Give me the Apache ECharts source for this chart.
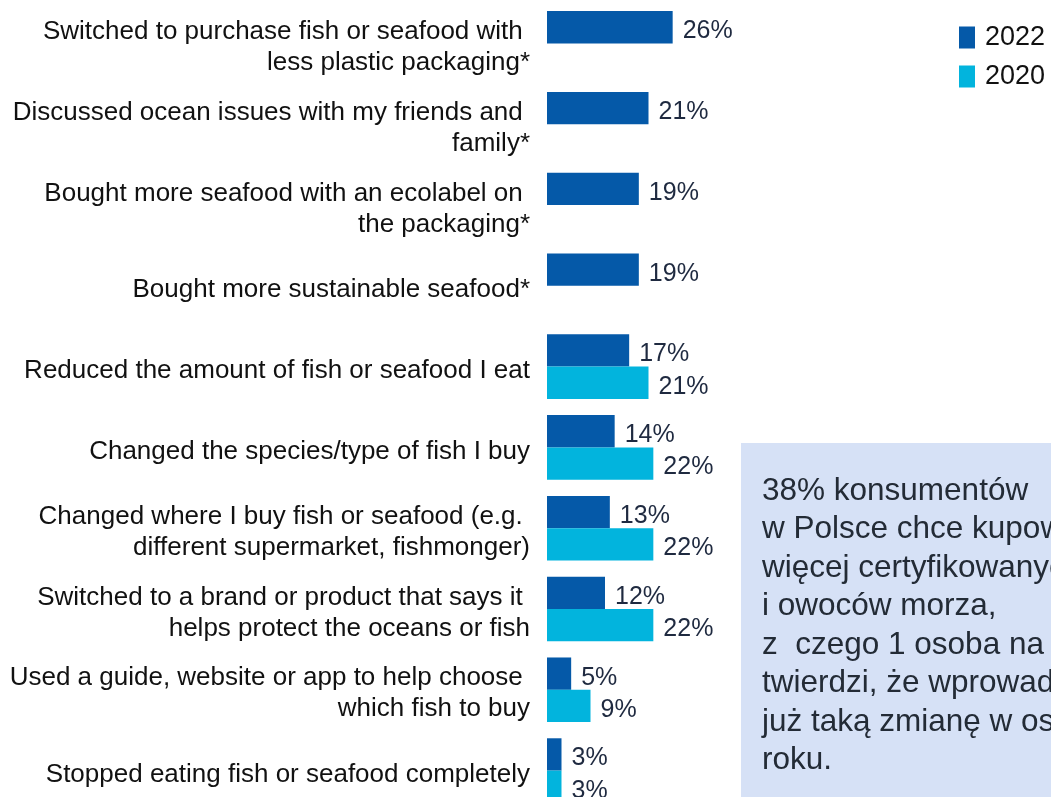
<!DOCTYPE html>
<html>
<head>
<meta charset="utf-8">
<script src="https://cdn.jsdelivr.net/npm/echarts@6/dist/echarts.min.js"></script>
<style>
  html, body { margin: 0; padding: 0; background: #ffffff; }
  #chart { width: 1051px; height: 797px; }
</style>
</head>
<body>
<div id="chart"></div>
<script>
// Survey answers: actions taken by consumers (share of respondents, %)
const categories = [
  'Switched to purchase fish or seafood with \nless plastic packaging*',
  'Discussed ocean issues with my friends and \nfamily*',
  'Bought more seafood with an ecolabel on \nthe packaging*',
  'Bought more sustainable seafood*',
  'Reduced the amount of fish or seafood I eat',
  'Changed the species/type of fish I buy',
  'Changed where I buy fish or seafood (e.g. \ndifferent supermarket, fishmonger)',
  'Switched to a brand or product that says it \nhelps protect the oceans or fish',
  'Used a guide, website or app to help choose \nwhich fish to buy',
  'Stopped eating fish or seafood completely'
];
const values2022 = [26, 21, 19, 19, 17, 14, 13, 12, 5, 3];
const values2020 = [null, null, null, null, 21, 22, 22, 22, 9, 3];
const seriesNames = ['2022', '2020'];

const noteLines = [
  '38% konsumentów',
  'w Polsce chce kupować',
  'więcej certyfikowanych ryb',
  'i owoców morza,',
  'z  czego 1 osoba na 5',
  'twierdzi, że wprowadziła',
  'już taką zmianę w ostatnim',
  'roku.'
];

const FONT = '"Liberation Sans", Arial, sans-serif';
const valueLabel = {
  show: true,
  position: 'right',
  distance: 10,
  offset: [0, 4],
  fontFamily: FONT,
  fontSize: 25,
  color: '#1f2a40',
  formatter: p => (p.value == null ? '' : p.value + '%')
};

// bars live in grid 0; grid 1 carries the category labels, sitting a few px lower
const gridBase = { left: 547, width: 145, height: 808, containLabel: false, outerBoundsMode: 'none' };

const chart = echarts.init(document.getElementById('chart'), null, { renderer: 'canvas' });
chart.setOption({
  animation: false,
  backgroundColor: '#ffffff',
  grid: [
    Object.assign({ top: 3 }, gridBase),
    Object.assign({ top: 7 }, gridBase)
  ],
  xAxis: [
    { type: 'value', min: 0, max: 30, show: false, gridIndex: 0 },
    { type: 'value', min: 0, max: 30, show: false, gridIndex: 1 }
  ],
  yAxis: [
    {
      type: 'category', gridIndex: 0,
      data: categories,
      inverse: true,
      axisLine: { show: false },
      axisTick: { show: false },
      axisLabel: { show: false }
    },
    {
      type: 'category', gridIndex: 1,
      data: categories,
      inverse: true,
      axisLine: { show: false },
      axisTick: { show: false },
      splitLine: { show: false },
      axisLabel: {
        margin: 17,
        fontFamily: FONT,
        fontSize: 26,
        lineHeight: 31,
        color: '#111111',
        align: 'right'
      }
    }
  ],
  legend: {
    orient: 'vertical',
    left: 959,
    top: 24,
    padding: 0,
    icon: 'rect',
    itemWidth: 16,
    itemHeight: 22,
    itemGap: 12,
    textStyle: { fontFamily: FONT, fontSize: 27, color: '#111111', padding: [0, 0, 0, 5] },
    data: seriesNames
  },
  series: [
    {
      name: seriesNames[0], type: 'bar', data: values2022,
      xAxisIndex: 0, yAxisIndex: 0,
      barGap: '0%', barCategoryGap: '20%',
      itemStyle: { color: '#0559A8' },
      label: valueLabel
    },
    {
      name: seriesNames[1], type: 'bar', data: values2020,
      xAxisIndex: 0, yAxisIndex: 0,
      barGap: '0%', barCategoryGap: '20%',
      itemStyle: { color: '#02B4DD' },
      label: valueLabel
    }
  ],
  graphic: [
    {
      type: 'rect',
      left: 741, top: 443,
      shape: { width: 330, height: 370 },
      style: { fill: '#D6E1F6' },
      silent: true
    },
    {
      type: 'text',
      left: 762, top: 472,
      style: {
        text: noteLines.join('\n'),
        font: '31.5px ' + FONT,
        lineHeight: 38.5,
        fill: '#232b36'
      },
      silent: true
    }
  ]
});
</script>
</body>
</html>
